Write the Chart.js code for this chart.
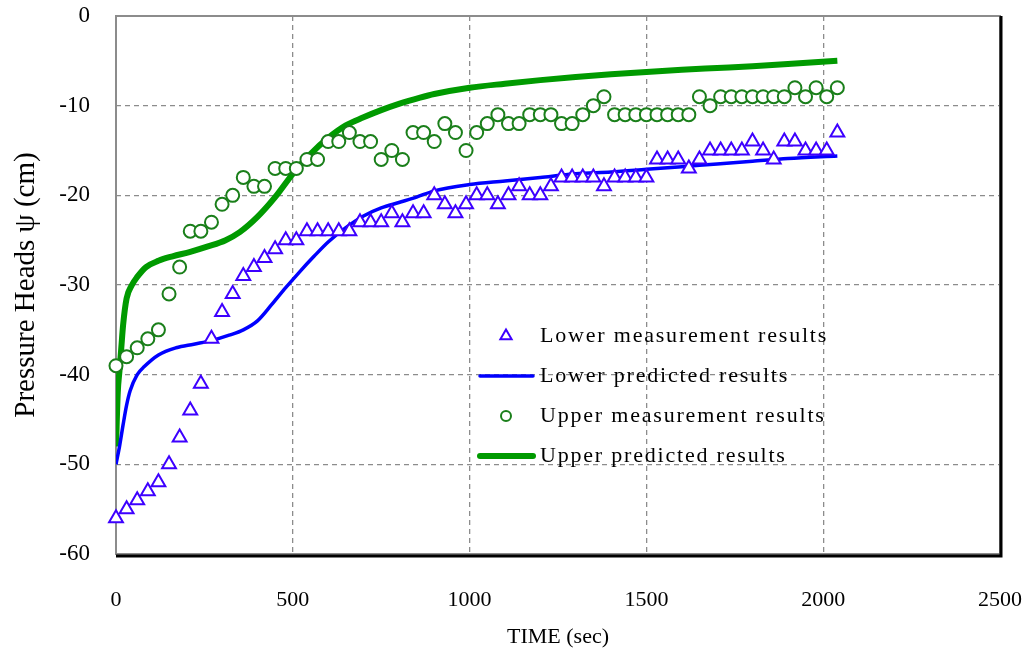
<!DOCTYPE html>
<html>
<head>
<meta charset="utf-8">
<script src="https://cdn.jsdelivr.net/npm/chart.js@4"></script>
<style>
  html, body { margin: 0; padding: 0; background: #fff; }
  #wrap { width: 1034px; height: 658px; }
</style>
</head>
<body>
<div id="wrap"><canvas id="grafico" width="1034" height="658"></canvas></div>
<script>
// -------------------- DATA --------------------
const measTime = [0, 30, 60, 90, 120, 150, 180, 210, 240, 270, 300, 330, 360, 390, 420, 450, 480, 510, 540, 570,
  600, 630, 660, 690, 720, 750, 780, 810, 840, 870, 900, 930, 960, 990, 1020, 1050, 1080, 1110, 1140, 1170,
  1200, 1230, 1260, 1290, 1320, 1350, 1380, 1410, 1440, 1470, 1500, 1530, 1560, 1590, 1620, 1650, 1680, 1710,
  1740, 1770, 1800, 1830, 1860, 1890, 1920, 1950, 1980, 2010, 2040];

const lowerMeas = [-56, -55, -54, -53, -52, -50, -47, -44, -41, -36,
  -33, -31, -29, -28, -27, -26, -25, -25, -24, -24,
  -24, -24, -24, -23, -23, -23, -22, -23, -22, -22,
  -20, -21, -22, -21, -20, -20, -21, -20, -19, -20,
  -20, -19, -18, -18, -18, -18, -19, -18, -18, -18,
  -18, -16, -16, -16, -17, -16, -15, -15, -15, -15,
  -14, -15, -16, -14, -14, -15, -15, -15, -13];

const upperMeas = [-39, -38, -37, -36, -35, -31, -28, -24, -24, -23,
  -21, -20, -18, -19, -19, -17, -17, -17, -16, -16,
  -14, -14, -13, -14, -14, -16, -15, -16, -13, -13,
  -14, -12, -13, -15, -13, -12, -11, -12, -12, -11,
  -11, -11, -12, -12, -11, -10, -9, -11, -11, -11,
  -11, -11, -11, -11, -11, -9, -10, -9, -9, -9,
  -9, -9, -9, -9, -8, -9, -8, -9, -8];

const lowerPredTime = [0, 10, 20, 30, 40, 60, 80, 120, 170, 220, 270, 320, 360, 400, 440, 480, 520, 560, 600, 650,
  700, 750, 800, 850, 900, 1000, 1100, 1200, 1300, 1400, 1500, 1600, 1700, 1800, 1900, 2040];
const lowerPred = [-50, -48, -45.6, -43.4, -41.8, -40, -39.1, -37.8, -37, -36.6, -36.2, -35.6, -35, -34, -32.2, -30.3,
  -28.5, -26.8, -25.2, -23.6, -22.3, -21.4, -20.8, -20.2, -19.5, -18.8, -18.4, -18.0, -17.6, -17.4, -17.1, -16.8,
  -16.5, -16.2, -15.9, -15.6];

const upperPredTime = [0, 5, 10, 15, 20, 30, 45, 60, 85, 120, 160, 210, 260, 310, 350, 400, 450, 500, 550, 600,
  650, 700, 750, 800, 860, 900, 1000, 1100, 1200, 1300, 1400, 1500, 1600, 1700, 1800, 1900, 2040];
const upperPred = [-48, -42, -39.5, -37, -34.5, -31.5, -30, -29.1, -28, -27.3, -26.8, -26.3, -25.7, -25.0, -24.1,
  -22.4, -20.2, -17.6, -15.4, -13.6, -12.2, -11.3, -10.5, -9.8, -9.1, -8.7, -8.0, -7.55, -7.15, -6.8, -6.5,
  -6.25, -6.0, -5.8, -5.6, -5.35, -5.0];

const xTicks = [0, 500, 1000, 1500, 2000, 2500];
const yTicks = [-60, -50, -40, -30, -20, -10, 0];

const legendLabels = ['Lower measurement results', 'Lower predicted results',
  'Upper measurement results', 'Upper predicted results'];

// -------------------- HELPERS --------------------
const FONT = "'Liberation Serif', 'Times New Roman', serif";
const pares = (xs, ys) => xs.map((x, i) => ({ x: x, y: ys[i] }));

// legenda desenhada dentro da área do gráfico
const legendaInterna = {
  id: 'legendaInterna',
  afterDraw(chart) {
    const ctx = chart.ctx;
    const x0 = 480, x1 = 533, textX = 540;
    const rows = [336, 376, 416, 456];
    ctx.save();
    ctx.font = '22px ' + FONT;
    ctx.textBaseline = 'middle';
    chart.data.datasets.forEach((ds, i) => {
      const y = rows[i];
      ctx.strokeStyle = ds.borderColor;
      ctx.lineWidth = ds.borderWidth;
      if (ds.showLine === false) {
        ctx.fillStyle = '#ffffff';
        Chart.helpers.drawPoint(ctx, {
          pointStyle: ds.pointStyle, radius: ds.pointRadius - 1.5, rotation: 0,
          borderWidth: ds.borderWidth
        }, 506, y);
      } else {
        ctx.beginPath();
        ctx.lineCap = 'round';
        ctx.moveTo(x0, y);
        ctx.lineTo(x1, y);
        ctx.stroke();
      }
      ctx.fillStyle = '#000';
      ctx.letterSpacing = '1.8px';
      ctx.fillText(ds.label, textX, y);
      ctx.letterSpacing = '0px';
    });
    ctx.restore();
  }
};

// moldura do gráfico (estilo Excel)
const moldura = {
  id: 'moldura',
  beforeDatasetsDraw(chart) {
    const { ctx, chartArea: a } = chart;
    ctx.save();
    ctx.strokeStyle = '#8c8c8c';
    ctx.lineWidth = 2;
    ctx.strokeRect(a.left, a.top, a.right - a.left, a.bottom - a.top);
    ctx.strokeStyle = '#000';
    ctx.lineWidth = 3;
    ctx.beginPath();
    ctx.moveTo(a.right + 1, a.top);
    ctx.lineTo(a.right + 1, a.bottom + 2);
    ctx.lineTo(a.left, a.bottom + 2);
    ctx.stroke();
    ctx.restore();
  }
};

// -------------------- GRÁFICO --------------------
const ctx = document.getElementById('grafico').getContext('2d');

new Chart(ctx, {
  type: 'line',
  data: {
    datasets: [
      {
        label: legendLabels[0],
        data: pares(measTime, lowerMeas),
        showLine: false,
        pointStyle: 'triangle',
        pointRadius: 8,
        borderWidth: 2,
        borderColor: '#3d00ff',
        backgroundColor: '#ffffff',
        pointBackgroundColor: '#ffffff',
        clip: false,
        order: 0
      },
      {
        label: legendLabels[1],
        data: pares(lowerPredTime, lowerPred),
        borderColor: '#0000ff',
        borderWidth: 3.5,
        pointRadius: 0,
        cubicInterpolationMode: 'monotone',
        fill: false,
        order: 2
      },
      {
        label: legendLabels[2],
        data: pares(measTime, upperMeas),
        showLine: false,
        pointStyle: 'circle',
        pointRadius: 6.5,
        borderWidth: 2,
        borderColor: '#1a7f1a',
        backgroundColor: '#ffffff',
        pointBackgroundColor: '#ffffff',
        clip: false,
        order: 1
      },
      {
        label: legendLabels[3],
        data: pares(upperPredTime, upperPred),
        borderColor: '#009a00',
        borderWidth: 6,
        pointRadius: 0,
        cubicInterpolationMode: 'monotone',
        fill: false,
        order: 3
      }
    ]
  },
  options: {
    responsive: false,
    animation: false,
    layout: { padding: { left: 0, top: 16, right: 34, bottom: 0 } },
    plugins: {
      legend: { display: false },
      tooltip: { enabled: false }
    },
    scales: {
      x: {
        type: 'linear',
        min: xTicks[0],
        max: xTicks[xTicks.length - 1],
        afterBuildTicks: (scale) => { scale.ticks = xTicks.map(v => ({ value: v })); },
        afterFit: (scale) => { scale.height = 104; scale.paddingLeft = 0; scale.paddingRight = 0; },
        grid: { color: '#8c8c8c', lineWidth: 1.3, drawTicks: false },
        border: { display: false, dash: [5, 4] },
        ticks: {
          color: '#000', padding: 33, font: { family: FONT, size: 22 },
          callback: (v) => String(v)
        },
        title: {
          display: true, text: 'TIME (sec)', color: '#000',
          font: { family: FONT, size: 22 }, padding: { top: 0, bottom: 8 }
        }
      },
      y: {
        type: 'linear',
        min: yTicks[0],
        max: yTicks[yTicks.length - 1],
        afterBuildTicks: (scale) => { scale.ticks = yTicks.map(v => ({ value: v })); },
        afterFit: (scale) => { scale.width = 116; scale.paddingTop = 0; scale.paddingBottom = 0; },
        grid: { color: '#8c8c8c', lineWidth: 1.3, drawTicks: false },
        border: { display: false, dash: [5, 4] },
        ticks: {
          color: '#000', padding: 26, font: { family: FONT, size: 23 },
          callback: (v) => String(v)
        },
        title: {
          display: true, text: 'Pressure Heads ψ (cm)', color: '#000',
          font: { family: FONT, size: 29 }, padding: { top: 9, bottom: 0 }
        }
      }
    }
  },
  plugins: [moldura, legendaInterna]
});
</script>
</body>
</html>
